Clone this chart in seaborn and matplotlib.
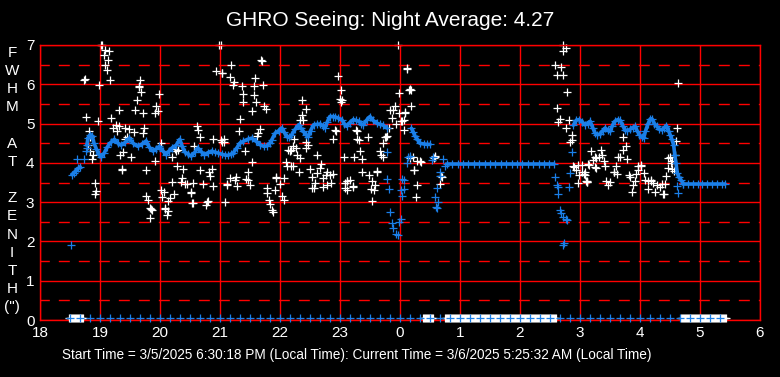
import numpy as np
import pandas as pd
import matplotlib
matplotlib.use("Agg")
import matplotlib.pyplot as plt
from matplotlib.ticker import MultipleLocator
import seaborn as sns

# hours after midnight are written as 24+h so the night stays continuous
hour_ticks = list(range(18, 31))
hour_labels = [str(h % 24) for h in hour_ticks]

title = "GHRO Seeing: Night Average: 4.27"
footer = ("Start Time = 3/5/2025 6:30:18 PM (Local Time): "
          "Current Time = 3/6/2025 5:25:32 AM (Local Time)")
ylabel_letters = ["F", "W", "H", "M", "", "A", "T", "", "Z", "E", "N", "I", "T", "H", '(")']

# individual seeing samples (white)
white_pts = [
    (19.02, 7.0), (19.04, 7.0), (19.08, 6.88), (19.15, 6.84), (19.06, 6.75), (19.13, 6.62),
    (19.09, 6.48), (19.11, 6.37), (18.74, 6.12), (18.75, 6.13), (19.17, 6.12), (18.99, 5.97),
    (19.67, 6.10), (19.65, 5.95), (19.65, 5.92), (19.69, 5.80), (19.99, 5.75), (19.61, 5.61),
    (19.94, 5.46), (19.97, 5.33), (19.92, 5.27), (19.31, 5.34), (19.59, 5.34), (19.71, 5.28),
    (18.77, 5.16), (19.19, 5.13), (18.97, 5.06), (19.26, 4.97), (19.32, 4.95), (19.21, 4.89),
    (19.28, 4.82), (19.42, 4.90), (19.49, 4.86), (19.56, 4.78), (19.73, 4.90), (19.72, 4.75),
    (18.82, 4.80), (18.84, 4.65), (19.45, 4.65), (19.41, 4.61), (18.80, 4.46), (18.84, 4.29),
    (18.88, 4.19), (18.87, 4.10), (19.34, 4.19), (19.38, 4.27), (19.52, 4.15), (20.01, 4.50),
    (19.91, 4.06), (19.36, 3.85), (19.37, 3.83), (19.76, 3.81), (18.91, 3.49), (18.94, 3.29),
    (18.92, 3.21), (19.77, 3.15), (19.80, 3.05), (20.02, 3.32), (20.06, 3.26), (20.04, 3.14),
    (19.83, 2.85), (19.85, 2.83), (19.87, 2.80), (19.84, 2.59), (20.08, 2.85), (20.09, 2.82),
    (20.14, 2.78), (20.11, 2.68), (20.14, 3.02), (20.17, 3.10), (20.29, 3.91), (20.39, 3.85),
    (20.36, 3.61), (20.35, 3.51), (20.20, 3.51), (20.41, 3.47), (20.45, 3.46), (20.55, 3.48),
    (20.67, 3.81), (20.71, 3.47), (20.81, 3.78), (20.87, 3.85), (20.83, 3.66), (20.88, 3.42),
    (20.23, 3.21), (20.51, 3.25), (20.52, 3.24), (20.54, 2.99), (20.55, 2.97), (20.76, 2.93),
    (20.80, 3.04), (20.78, 3.00), (21.09, 3.00), (21.11, 3.44), (20.62, 4.95), (20.63, 4.84),
    (20.66, 4.67), (20.57, 4.42), (20.88, 4.60), (21.02, 4.59), (21.03, 4.52), (20.94, 6.33),
    (21.03, 6.30), (20.99, 7.0), (21.01, 7.0), (20.20, 4.16), (20.27, 4.29), (20.25, 4.36),
    (20.30, 4.33),
    (21.69, 6.61), (21.70, 6.60), (21.19, 6.48), (21.04, 6.30), (21.17, 6.18), (21.23, 6.07),
    (21.21, 5.99), (21.59, 6.17), (21.36, 5.95), (21.57, 5.95), (21.72, 5.97), (21.38, 5.76),
    (21.56, 5.73), (21.39, 5.56), (21.60, 5.54), (21.74, 5.46), (21.76, 5.37), (21.54, 5.33),
    (21.34, 5.11), (21.32, 4.80), (21.67, 4.86), (21.64, 4.76), (21.62, 4.69), (21.06, 4.61),
    (21.07, 4.52), (21.42, 4.29), (21.53, 4.01), (21.46, 3.78), (21.16, 3.61), (21.27, 3.63),
    (21.11, 3.47), (21.25, 3.57), (21.28, 3.40), (21.43, 3.60), (21.47, 3.57), (21.50, 3.43),
    (21.78, 3.36), (21.79, 3.23), (21.91, 3.30), (21.82, 3.06), (21.84, 2.96), (21.86, 2.81),
    (21.88, 2.76), (21.93, 3.63), (21.94, 3.61), (22.00, 3.47), (22.07, 3.61), (22.03, 3.16),
    (22.06, 3.06), (22.32, 3.76), (22.18, 3.91), (22.10, 4.02), (22.11, 3.93), (22.21, 3.93),
    (22.16, 4.29), (22.13, 4.32), (22.18, 4.33), (22.22, 4.42), (22.27, 4.38), (22.29, 4.21),
    (22.33, 4.12), (22.23, 4.60), (22.46, 4.46), (22.44, 4.38), (22.43, 4.53), (22.62, 4.19),
    (22.50, 3.85), (22.53, 3.63), (22.58, 3.49), (22.57, 3.36), (22.54, 3.36), (22.61, 3.74),
    (22.66, 3.88), (22.69, 3.98), (22.72, 3.61), (22.76, 3.70), (22.79, 3.78), (22.83, 3.70),
    (22.85, 3.49), (22.88, 3.72), (22.72, 3.38), (22.78, 3.44), (22.89, 4.60), (22.92, 4.84),
    (22.93, 4.82), (22.96, 6.20), (23.02, 5.86), (23.00, 5.63), (23.04, 5.61), (23.01, 5.55),
    (22.37, 5.59), (22.43, 5.38), (22.37, 5.22), (22.39, 5.08), (22.33, 5.08), (23.06, 4.16),
    (23.24, 4.14), (23.37, 4.10), (23.34, 4.31), (23.27, 4.84), (23.28, 4.82), (23.29, 4.61),
    (23.32, 4.58), (23.46, 4.66), (23.11, 3.55), (23.12, 3.53), (23.08, 3.49), (23.17, 3.57),
    (23.08, 3.36), (23.12, 3.32), (23.21, 3.40), (23.22, 3.38), (23.36, 3.76), (23.49, 3.70),
    (23.61, 3.77), (23.62, 3.79), (23.54, 3.55), (23.51, 3.34), (23.56, 3.30), (23.58, 3.44),
    (23.54, 3.02), (23.67, 4.29), (23.69, 4.21), (23.72, 4.14), (23.75, 4.65), (23.76, 4.66),
    (23.78, 4.69), (23.71, 4.50), (23.82, 4.90), (23.86, 5.14), (23.89, 5.35), (23.92, 5.44),
    (23.83, 5.35), (23.93, 4.99), (23.99, 5.27), (24.02, 5.06), (24.06, 4.83), (24.08, 5.29),
    (23.99, 5.79), (23.96, 7.0), (24.11, 6.41), (24.12, 6.40), (24.15, 5.86),
    (24.17, 5.88), (24.18, 5.86), (24.19, 5.44), (24.08, 5.27), (24.06, 5.10), (24.03, 5.06),
    (24.22, 4.16), (24.17, 4.12), (24.28, 4.05), (24.34, 4.04), (24.35, 4.02), (24.58, 4.16),
    (24.59, 4.17), (24.56, 4.12), (24.23, 3.81), (24.24, 3.83), (24.28, 3.43), (24.26, 3.12),
    (24.66, 3.47), (24.69, 3.66), (24.70, 3.64),
    (26.72, 7.0), (26.76, 6.92), (26.72, 6.86), (26.59, 6.50), (26.69, 6.43), (26.61, 6.23),
    (26.71, 6.23), (26.79, 5.80), (26.62, 5.39), (26.67, 5.12), (26.64, 5.04), (26.81, 5.08),
    (26.77, 4.90), (26.87, 4.70), (26.86, 4.59), (26.84, 4.53), (26.89, 3.91), (26.90, 3.89),
    (26.94, 3.83), (26.97, 3.94), (26.99, 3.70), (27.08, 3.70), (26.96, 3.49), (27.11, 3.53),
    (27.12, 3.51), (27.15, 3.95),
    (28.64, 6.03), (28.62, 4.89), (27.72, 4.67), (28.60, 4.55), (27.19, 4.29), (27.35, 4.32),
    (27.36, 4.21), (27.25, 4.15), (27.26, 4.13), (27.31, 4.16), (27.21, 4.08), (27.40, 4.06),
    (27.76, 4.42), (27.72, 4.33), (27.67, 4.15), (27.64, 4.14), (27.79, 4.10), (28.50, 4.16),
    (28.58, 4.21), (28.54, 4.04), (28.47, 4.12), (28.51, 4.00), (27.03, 3.95), (27.14, 3.97),
    (27.25, 3.89), (27.26, 3.87), (27.42, 3.91), (27.60, 3.91), (27.56, 3.78), (27.57, 3.76),
    (27.62, 3.72), (27.06, 3.72), (27.08, 3.76), (27.03, 3.78), (27.10, 3.53), (27.11, 3.51),
    (27.44, 3.55), (27.50, 3.51), (27.47, 3.44), (27.81, 3.70), (27.84, 3.65), (27.92, 3.53),
    (27.89, 3.44), (27.87, 3.26), (28.01, 3.95), (28.02, 3.93), (27.97, 3.91), (27.96, 3.83),
    (28.06, 3.74), (27.93, 3.72), (28.09, 3.57), (28.14, 3.55), (28.18, 3.57), (28.19, 3.55),
    (28.22, 3.49), (28.13, 3.34), (28.25, 3.27), (28.29, 3.43), (28.33, 3.38), (28.37, 3.46),
    (28.42, 3.47), (28.39, 3.21), (28.40, 3.20), (28.46, 3.88), (28.44, 3.66), (28.53, 3.85),
    (28.56, 3.80),
]

# running average (blue), split into connected runs
blue_runs = [
    [(18.53, 3.70), (18.56, 3.74), (18.60, 3.80), (18.64, 3.86), (18.67, 3.90)],
    [(18.78, 4.45), (18.80, 4.63), (18.84, 4.72), (18.87, 4.68), (18.90, 4.50), (18.94, 4.35),
     (18.98, 4.22), (19.02, 4.15), (19.07, 4.25), (19.12, 4.40), (19.18, 4.52), (19.24, 4.60),
     (19.30, 4.50), (19.35, 4.45), (19.42, 4.52), (19.49, 4.63), (19.55, 4.50), (19.63, 4.42),
     (19.70, 4.48), (19.77, 4.56), (19.82, 4.40), (19.88, 4.30), (19.94, 4.36), (19.99, 4.42),
     (20.05, 4.30), (20.10, 4.21), (20.15, 4.30), (20.20, 4.38), (20.27, 4.45), (20.33, 4.60),
     (20.37, 4.42), (20.41, 4.28), (20.47, 4.22), (20.52, 4.17), (20.58, 4.27), (20.63, 4.38),
     (20.69, 4.28), (20.74, 4.21), (20.80, 4.26), (20.86, 4.30), (20.92, 4.27), (20.97, 4.25),
     (21.03, 4.22), (21.08, 4.20), (21.13, 4.19), (21.18, 4.22), (21.22, 4.25), (21.28, 4.38),
     (21.33, 4.50), (21.39, 4.55), (21.46, 4.60), (21.53, 4.63), (21.60, 4.55), (21.67, 4.46),
     (21.73, 4.42), (21.78, 4.43), (21.83, 4.50), (21.86, 4.58), (21.92, 4.76), (21.98, 4.82),
     (22.03, 4.89), (22.07, 4.78), (22.11, 4.67), (22.15, 4.65), (22.19, 4.70), (22.25, 4.85),
     (22.31, 4.97), (22.35, 4.88), (22.39, 4.80), (22.43, 4.72), (22.47, 4.67), (22.51, 4.82),
     (22.56, 4.97), (22.61, 4.98), (22.67, 4.99), (22.71, 4.95), (22.75, 4.89), (22.79, 5.05),
     (22.83, 5.18), (22.88, 5.18), (22.92, 5.17), (22.97, 5.14), (23.03, 5.10), (23.07, 5.00),
     (23.11, 4.93), (23.16, 5.02), (23.22, 5.10), (23.27, 5.08), (23.31, 5.06), (23.35, 5.00),
     (23.39, 4.97), (23.45, 5.10), (23.50, 5.18), (23.55, 5.08), (23.61, 5.01), (23.67, 4.98),
     (23.72, 4.96), (23.78, 4.89)],
    [(24.19, 4.88), (24.22, 4.79), (24.25, 4.68), (24.28, 4.62), (24.33, 4.50), (24.40, 4.48),
     (24.45, 4.47), (24.50, 4.47)],
    [(24.78, 3.97), (24.87, 3.97), (24.96, 3.97), (25.05, 3.97), (25.14, 3.97), (25.23, 3.97),
     (25.32, 3.97), (25.41, 3.97), (25.50, 3.97), (25.59, 3.97), (25.68, 3.97), (25.77, 3.97),
     (25.86, 3.97), (25.95, 3.97), (26.04, 3.97), (26.13, 3.97), (26.22, 3.97), (26.31, 3.97),
     (26.40, 3.97), (26.49, 3.97), (26.56, 3.97)],
    [(26.89, 4.96), (26.94, 5.09), (26.99, 5.10), (27.03, 5.05), (27.08, 4.97), (27.13, 5.00),
     (27.17, 5.06), (27.21, 4.90), (27.25, 4.76), (27.29, 4.72), (27.33, 4.73), (27.38, 4.82),
     (27.42, 4.89), (27.46, 4.83), (27.50, 4.80), (27.54, 4.95), (27.58, 5.06), (27.63, 5.10),
     (27.67, 5.08), (27.71, 4.95), (27.75, 4.84), (27.79, 4.82), (27.83, 4.85), (27.88, 4.90),
     (27.92, 4.93), (27.95, 4.82), (27.99, 4.72), (28.03, 4.65), (28.06, 4.63), (28.09, 4.80),
     (28.13, 4.98), (28.17, 5.12), (28.20, 5.12), (28.24, 5.00), (28.28, 4.93), (28.32, 4.86),
     (28.36, 4.84), (28.40, 4.88), (28.44, 4.95), (28.48, 4.80), (28.50, 4.72), (28.53, 4.60),
     (28.56, 4.46), (28.58, 4.20), (28.60, 3.99), (28.62, 3.75), (28.65, 3.63), (28.68, 3.57),
     (28.72, 3.47)],
    [(28.72, 3.45), (28.80, 3.45), (28.88, 3.45), (28.96, 3.45), (29.04, 3.45), (29.12, 3.45),
     (29.20, 3.45), (29.28, 3.45), (29.36, 3.45), (29.42, 3.45)],
]

# loose blue points (dips / transitions)
blue_loose = [
    (18.52, 1.92), (18.61, 4.10), (18.74, 4.10), (18.76, 4.30), (18.79, 4.38),
    (23.78, 4.28), (23.79, 3.60), (23.82, 3.33), (23.84, 2.76), (23.86, 2.46), (23.89, 2.33),
    (23.93, 2.20), (23.96, 2.17), (23.99, 2.50), (24.01, 2.58), (24.04, 3.58), (24.06, 3.56),
    (24.04, 3.16), (24.06, 3.33), (24.11, 4.00), (24.14, 4.16), (24.17, 4.18), (24.02, 3.30),
    (24.54, 4.07), (24.55, 4.16), (24.61, 3.35), (24.59, 3.14), (24.60, 2.88), (24.62, 2.86),
    (24.64, 3.01), (24.66, 3.66), (24.67, 3.77), (24.72, 4.10), (24.75, 3.93),
    (26.59, 3.65), (26.62, 3.44), (26.63, 3.38), (26.64, 3.20), (26.67, 2.80), (26.69, 2.72),
    (26.72, 2.61), (26.76, 2.58), (26.78, 2.55), (26.72, 1.91), (26.73, 1.95), (26.81, 3.38),
    (26.83, 3.75), (26.87, 4.27), (28.64, 3.23), (28.61, 3.40),
]

# zero readings: (start, end) hour spans and sample spacing
white_zero_spans = [(18.49, 18.74), (24.39, 24.56), (24.75, 26.60), (28.68, 29.44)]
white_zero_step = 1 / 60
blue_zero_span = (18.50, 29.45)
blue_zero_step = 1 / 6

BLUE = "#1a7fe8"
RED = "#ff0000"

sns.set_theme(style="dark", rc={
    "axes.facecolor": "black",
    "figure.facecolor": "black",
    "savefig.facecolor": "black",
    "text.color": "white",
})
plt.rcParams["font.family"] = ["Liberation Sans", "DejaVu Sans"]

white_df = pd.DataFrame(white_pts, columns=["hour", "fwhm"])
runs_df = pd.DataFrame(
    [(i, h, v) for i, run in enumerate(blue_runs) for h, v in run],
    columns=["run", "hour", "fwhm"])
loose_df = pd.DataFrame(blue_loose, columns=["hour", "fwhm"])
wz = np.concatenate([np.arange(a, b, white_zero_step) for a, b in white_zero_spans])
white_zero_df = pd.DataFrame({"hour": wz, "fwhm": 0.06})
bz = np.arange(blue_zero_span[0], blue_zero_span[1], blue_zero_step)
blue_zero_df = pd.DataFrame({"hour": bz, "fwhm": 0.06})

fig = plt.figure(figsize=(7.8, 3.77), dpi=100)
ax = fig.add_axes([40 / 780, 57 / 377, 720 / 780, 275 / 377])

# grid first so the marks sit on top
ax.set_axisbelow(True)
ax.xaxis.set_major_locator(MultipleLocator(1))
ax.yaxis.set_major_locator(MultipleLocator(1))
ax.yaxis.set_minor_locator(MultipleLocator(0.5))
ax.grid(which="major", color=RED, linewidth=1.0, linestyle="-")
ax.grid(which="minor", axis="y", color=RED, linewidth=1.0, linestyle=(1.2, (7.9, 6.5)))

mk = dict(marker="+", linewidth=0.9, edgecolor=None, legend=False, ax=ax, clip_on=False)
sns.scatterplot(data=white_df, x="hour", y="fwhm", color="white", s=26, **mk)
sns.scatterplot(data=white_zero_df, x="hour", y="fwhm", color="white", s=30, zorder=3, **mk)

sns.lineplot(data=runs_df, x="hour", y="fwhm", units="run", estimator=None, sort=False,
             color=BLUE, linewidth=2.6, ax=ax, legend=False)
sns.scatterplot(data=runs_df, x="hour", y="fwhm", color=BLUE, s=40, **mk)
sns.scatterplot(data=loose_df, x="hour", y="fwhm", color=BLUE, s=30, **mk)
sns.scatterplot(data=blue_zero_df, x="hour", y="fwhm", color=BLUE, s=26, zorder=3.5, **mk)

ax.set_xlim(18, 30)
ax.set_ylim(0, 7)
ax.set_xticks(hour_ticks)
ax.set_xticklabels(hour_labels)
ax.set_xlabel("")
ax.set_ylabel("")
ax.tick_params(axis="both", which="both", length=0, colors="white", labelsize=11)
ax.tick_params(axis="x", pad=4)
ax.tick_params(axis="y", pad=4)
for s in ax.spines.values():
    s.set_color(RED)
    s.set_linewidth(1.0)

fig.text(0.5, 1 - 20 / 377, title, ha="center", va="center", color="white", fontsize=15)
fig.text(12 / 780, 1 - 180 / 377, "\n".join(ylabel_letters), ha="center", va="center",
         multialignment="center", color="white", fontsize=11, linespacing=1.38)
fig.text(62 / 780, 1 - 355 / 377, footer, ha="left", va="center", color="white", fontsize=9.8)

fig.savefig("out.png", dpi=100, facecolor="black")
